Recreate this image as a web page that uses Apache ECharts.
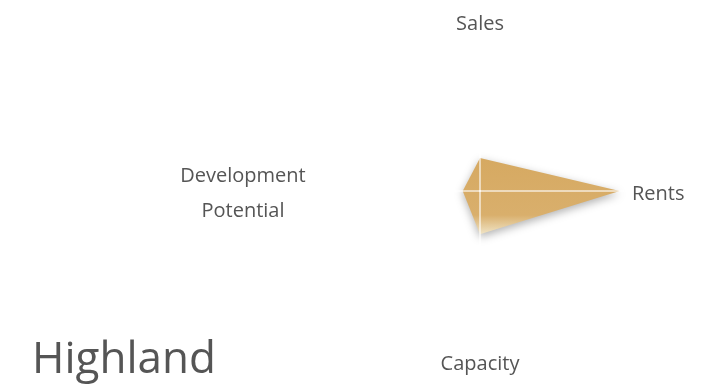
<!DOCTYPE html>
<html>
<head>
<meta charset="utf-8">
<script src="https://cdn.jsdelivr.net/npm/echarts@6/dist/echarts.min.js"></script>
<style>
  html, body { margin: 0; padding: 0; background: #fff; }
  #chart { width: 706px; height: 391px; }
</style>
</head>
<body>
<div id="chart"></div>
<script>
// radar order: top, left, bottom, right
var indicatorNames = ['Sales', 'Development Potential', 'Capacity', 'Rents'];
var indicatorMax = [100, 100, 100, 100];
var highlandValues = [23, 12, 30, 97];

var chart = echarts.init(document.getElementById('chart'));

var indicators = [];
for (var i = 0; i < indicatorNames.length; i++) {
  indicators.push({ name: indicatorNames[i], max: indicatorMax[i] });
}

var option = {
  animation: false,
  backgroundColor: '#fff',
  title: {
    text: 'Highland',
    left: 27,
    top: 333,
    textStyle: {
      fontFamily: 'Open Sans',
      fontSize: 44,
      fontWeight: 'normal',
      color: '#555'
    }
  },
  radar: {
    center: [480, 191],
    radius: 144,
    startAngle: 90,
    shape: 'polygon',
    z: 3,
    indicator: indicators,
    nameGap: 8,
    axisName: {
      color: '#555',
      fontFamily: 'Open Sans',
      fontSize: 20,
      padding: [11, 0, 5, 0],
      formatter: function (name) {
        if (name === 'Development Potential') {
          return '{dp|Development}\n{dp|Potential}';
        }
        return name;
      },
      rich: {
        dp: {
          width: 170,
          align: 'center',
          color: '#555',
          fontFamily: 'Open Sans',
          fontSize: 20,
          lineHeight: 35
        }
      }
    },
    axisLine: {
      lineStyle: { color: 'rgba(255,255,255,0.75)', width: 1.5 }
    },
    splitLine: { show: false },
    splitArea: { show: false }
  },
  series: [{
    name: 'Highland',
    type: 'radar',
    z: 2,
    symbol: 'none',
    lineStyle: { width: 0 },
    areaStyle: {
      opacity: 1,
      color: new echarts.graphic.LinearGradient(0, 0, 0, 1, [
        { offset: 0, color: '#D6A961' },
        { offset: 0.75, color: '#D9AF6C' },
        { offset: 1, color: '#F0E4C6' }
      ]),
      shadowColor: 'rgba(0,0,0,0.3)',
      shadowBlur: 8,
      shadowOffsetY: 3
    },
    data: [{ value: highlandValues, name: 'Highland' }]
  }]
};

chart.setOption(option);
</script>
</body>
</html>
